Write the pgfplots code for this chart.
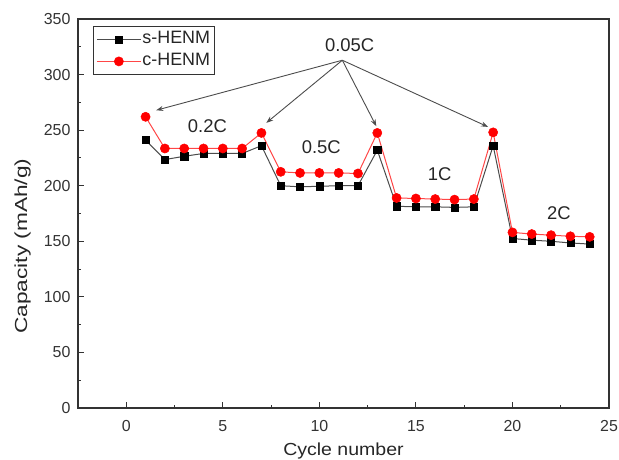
\documentclass[border=0pt]{standalone}
\usepackage{fontspec}
\setmainfont{Liberation Sans}
\usepackage{graphicx}
\usepackage{pgfplots}
\pgfplotsset{compat=1.18}
\usetikzlibrary{arrows.meta}
\begin{document}
\begin{tikzpicture}
\useasboundingbox (-78bp,-52bp) rectangle (541bp,408bp);
\begin{axis}[
 scale only axis, width=531bp, height=389bp,
 xmin=-2.5, xmax=25, ymin=0, ymax=350,
 xtick={0,5,...,25}, ytick={0,50,...,350},
 minor x tick num=1, minor y tick num=1,
 tick align=inside, xtick pos=bottom, ytick pos=left,
 major tick length=6bp, minor tick length=3.5bp,
 axis line style={line width=1.2bp, draw=black!80},
 every tick/.style={line width=1bp, black!80},
 ticklabel style={font=\fontsize{16}{18}\selectfont, text=black!80},
 xticklabel style={anchor=north, yshift=-9bp},
 yticklabel style={anchor=east, xshift=-4bp},
 /pgf/number format/assume math mode=true,
 xlabel={\scalebox{1.12}[1]{Cycle number}}, ylabel={\scalebox{1.3}[1]{Capacity (mAh/g)}},
 label style={font=\fontsize{17.5}{20}\selectfont, text=black!85},
 xlabel style={at={(axis description cs:0.5,-0.123)}, anchor=base},
 ylabel style={at={(axis description cs:-0.1045,0.416)}, anchor=center},
 legend style={at={(axis description cs:0.0282,0.982)}, anchor=north west,
   draw=black!80, line width=0.8bp, font=\fontsize{18}{20}\selectfont, text=black!85,
   inner xsep=3bp, inner ysep=3.5bp, row sep=3bp,
   nodes={inner sep=1bp, text height=13bp, text depth=4bp}},
 legend cell align=left,
 legend image code/.code={\draw[mark repeat=2,mark phase=2] plot coordinates {(0bp,0bp)(22bp,0bp)(44bp,0bp)};},
]
\addplot[color=black!70, line width=1bp, mark=square*, mark size=3.6bp, mark options={fill=black, draw=black, line width=0.5bp}]
 coordinates {(1,241)(2,223.5)(3,226.5)(4,229)(5,229)(6,229)(7,236)(8,200)(9,199)(10,199.5)(11,200)(12,200)(13,232)(14,181.5)(15,181)(16,181)(17,180.5)(18,181)(19,236)(20,152.5)(21,151)(22,150)(23,148.5)(24,147.5)};
\addlegendentry{s-HENM}
\addplot[color={rgb,255:red,255;green,70;blue,70}, line width=1bp, mark=*, mark size=4.6bp, mark options={fill=red, draw=red, line width=0.5bp}]
 coordinates {(1,262)(2,233.5)(3,233.5)(4,233.5)(5,233.5)(6,233.5)(7,247.5)(8,212.5)(9,211.5)(10,211.5)(11,211.5)(12,211)(13,247.5)(14,189)(15,188.5)(16,188)(17,187.5)(18,188)(19,248)(20,158)(21,156.5)(22,155.5)(23,154.5)(24,154)};
\addlegendentry{c-HENM}
\begin{scope}[draw=black!70, line width=0.9bp, -{Stealth[length=7bp,width=5bp]}]
\draw (axis cs:11.19,312.9) -- (axis cs:1.55,267.9);
\draw (axis cs:11.19,312.9) -- (axis cs:7.25,256.5);
\draw (axis cs:11.19,312.9) -- (axis cs:12.95,253.5);
\draw (axis cs:11.19,312.9) -- (axis cs:18.74,252.9);
\end{scope}
\begin{scope}[every node/.style={font=\fontsize{18.5}{20}\selectfont, text=black!85}]
\node at (axis cs:11.57,326.5) {0.05C};
\node at (axis cs:4.2,254) {0.2C};
\node at (axis cs:10.1,235) {0.5C};
\node at (axis cs:16.23,210) {1C};
\node at (axis cs:22.4,175.5) {2C};
\end{scope}
\end{axis}
\end{tikzpicture}
\end{document}
